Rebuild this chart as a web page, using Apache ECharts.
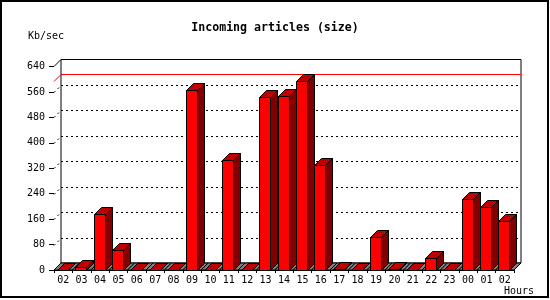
<!DOCTYPE html>
<html>
<head>
<meta charset="utf-8">
<script src="https://cdn.jsdelivr.net/npm/echarts@6/dist/echarts.min.js"></script>
<style>html,body{margin:0;padding:0;background:#fff}#c{width:550px;height:300px}</style>
</head>
<body>
<div id="c"></div>
<script>
const titleText = 'Incoming articles (size)';
const yAxisName = 'Kb/sec';
const xAxisName = 'Hours';
const categories = ['02','03','04','05','06','07','08','09','10','11','12','13','14','15','16','17','18','19','20','21','22','23','00','01','02'];
const values = [0,9,176,63,0,0,0,566,0,346,0,544,547,594,330,4,0,104,4,0,38,0,224,198,153];
const yMin = 0, yMax = 640, yInterval = 80;
const yTicks = [0,80,160,240,320,400,480,560,640];

const D = 7;
const FONT = 'DejaVu Sans Mono';
const maxVal = Math.max.apply(null, values);
const crisp = v => Math.round(v) + 0.5;

const chart = echarts.init(document.getElementById('c'), null, {renderer: 'canvas'});

function frameItem(params, api) {
  const cs = params.coordSys;
  const x0 = cs.x, x1 = cs.x + cs.width, yT = cs.y, yB = cs.y + cs.height;
  const ch = [];
  ch.push({type: 'polygon', shape: {points: [[x0 + D, yT - D], [x1 + D, yT - D], [x1 + D, yB - D], [x0 + D, yB - D]]},
    style: {fill: '#fff', stroke: '#000', lineWidth: 1}});
  ch.push({type: 'line', shape: {x1: x0, y1: yT, x2: x0 + D, y2: yT - D}, style: {stroke: '#000', lineWidth: 1}});
  yTicks.forEach(t => {
    if (t <= yMin || t >= yMax) return;
    const yf = api.coord([0, t])[1];
    const yb = crisp(yf - D);
    ch.push({type: 'line', shape: {x1: x0 + D, y1: yb, x2: x1 + D, y2: yb}, style: {stroke: '#000', lineWidth: 1, lineDash: [2, 3]}});
    ch.push({type: 'line', shape: {x1: x0, y1: yb + D, x2: x0 + D, y2: yb}, style: {stroke: '#000', lineWidth: 1, lineDash: [2, 3]}});
  });
  const ym = crisp(api.coord([0, maxVal])[1] - D);
  ch.push({type: 'line', shape: {x1: x0 + D, y1: ym, x2: x1 + D, y2: ym}, style: {stroke: '#ff0000', lineWidth: 1}});
  ch.push({type: 'line', shape: {x1: x0, y1: ym + D, x2: x0 + D, y2: ym}, style: {stroke: '#ff0000', lineWidth: 1}});
  const n = categories.length;
  const bw = cs.width / n;
  for (let i = 0; i < n; i++) {
    const a = x0 + i * bw, b = x0 + (i + 1) * bw;
    ch.push({type: 'polygon', shape: {points: [[a, yB], [b, yB], [b + D, yB - D], [a + D, yB - D]]},
      style: {fill: '#808080', stroke: '#000', lineWidth: 1}});
  }
  return {type: 'group', children: ch};
}

function barItem(params, api) {
  const i = api.value(0), v = api.value(1);
  const top = api.coord([i, v]);
  const base = api.coord([i, 0]);
  const bw = api.size([1, 0])[0];
  const cx = top[0];
  const l = Math.round(cx - bw / 2 + 2.7) + 0.5;
  const r = l + 11;
  const yt = Math.round(top[1]) + 0.5;
  const yb = Math.round(base[1]) + 0.5;
  const st = {stroke: '#000', lineWidth: 1};
  return {type: 'group', children: [
    {type: 'polygon', shape: {points: [[r, yt], [r + D, yt - D], [r + D, yb - D], [r, yb]]}, style: Object.assign({fill: '#800000'}, st)},
    {type: 'polygon', shape: {points: [[l, yt], [r, yt], [r + D, yt - D], [l + D, yt - D]]}, style: Object.assign({fill: '#c00000'}, st)},
    {type: 'polygon', shape: {points: [[l, yt], [r, yt], [r, yb], [l, yb]]}, style: Object.assign({fill: '#ff0000'}, st)}
  ]};
}

chart.setOption({
  animation: false,
  backgroundColor: '#fff',
  title: {text: titleText, left: 'center', top: 17,
    textStyle: {fontFamily: FONT, fontWeight: 'bold', fontSize: 11.6, color: '#000'}},
  grid: {left: 54, right: 36, top: 66.5, bottom: 30},
  xAxis: {type: 'category', data: categories,
    axisLine: {show: true, lineStyle: {color: '#000', width: 1}},
    axisTick: {show: true, length: 3, interval: 0, lineStyle: {color: '#000'}},
    axisLabel: {interval: 0, fontFamily: FONT, fontSize: 10, color: '#000', margin: 5},
    splitLine: {show: false}},
  yAxis: {type: 'value', min: yMin, max: yMax, interval: yInterval,
    axisLine: {show: false},
    axisTick: {show: true, length: 5, lineStyle: {color: '#000'}},
    axisLabel: {fontFamily: FONT, fontSize: 10, color: '#000', margin: 9},
    splitLine: {show: false}},
  graphic: [
    {type: 'rect', shape: {x: 1, y: 1, width: 547, height: 296}, style: {fill: null, stroke: '#000', lineWidth: 2}, z: 100},
    {type: 'text', left: 28, top: 31, style: {text: yAxisName, fontFamily: FONT, fontSize: 10, fill: '#000'}},
    {type: 'text', right: 16, top: 286, style: {text: xAxisName, fontFamily: FONT, fontSize: 10, fill: '#000'}}
  ],
  series: [
    {type: 'custom', z: 1, renderItem: frameItem, data: [[0, 0]], silent: true},
    {type: 'custom', z: 2, renderItem: barItem, data: values.map((v, i) => [i, v]), silent: true}
  ]
});
</script>
</body>
</html>
